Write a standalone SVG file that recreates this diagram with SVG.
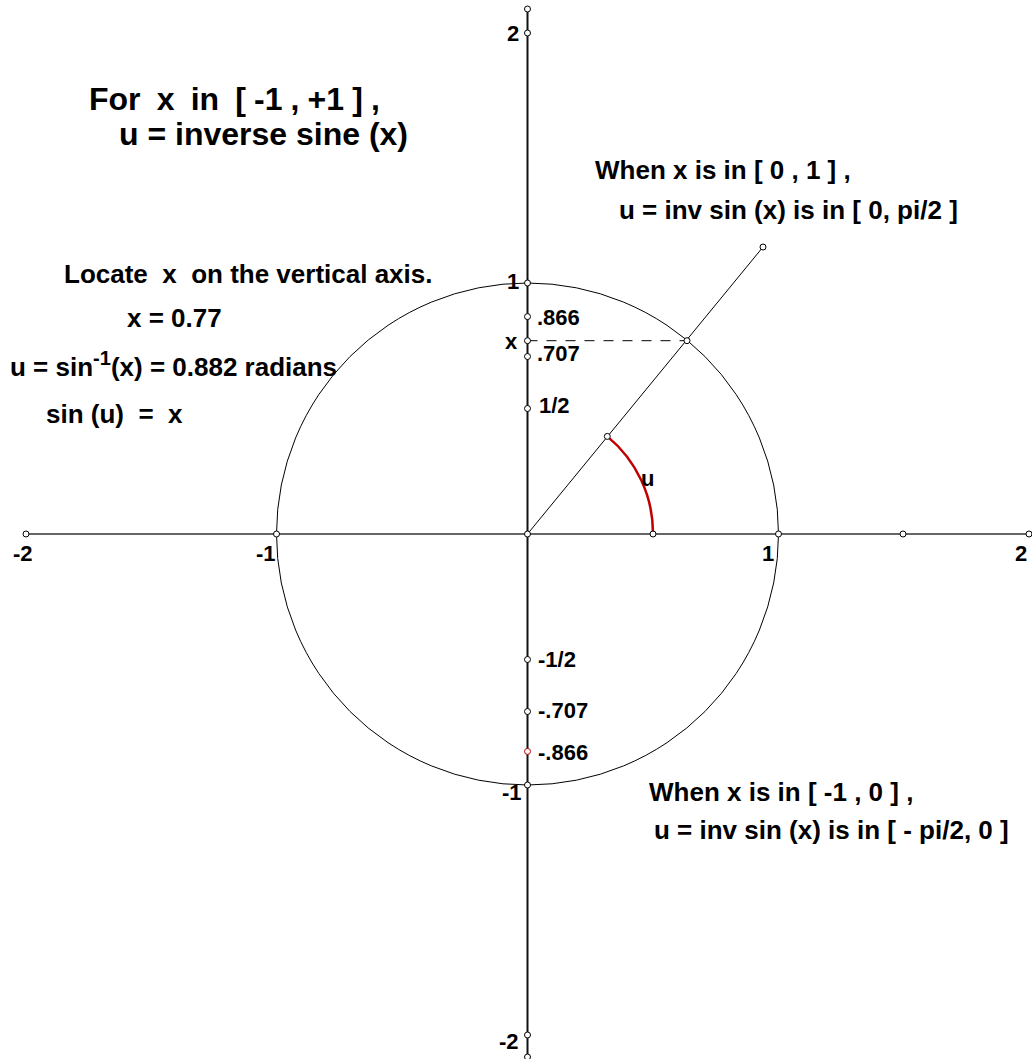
<svg xmlns="http://www.w3.org/2000/svg" width="1032" height="1059" viewBox="0 0 1032 1059">
<style>
text{font-family:"Liberation Sans",Arial,sans-serif;font-weight:bold;fill:#000;white-space:pre}
.title{font-size:32px}
.note{font-size:26px}
.lab{font-size:22px}
.pt{fill:#fff;stroke:#000;stroke-width:1}
.ptr{fill:#fff;stroke:#c00000;stroke-width:1}
</style>
<rect width="1032" height="1059" fill="#fff"/>
<g id="connectors" fill="none">
<line x1="26" y1="534" x2="1029" y2="534" stroke="#333" stroke-width="1.6"/>
<line x1="527.5" y1="9" x2="527.5" y2="1057" stroke="#111" stroke-width="2"/>
<circle cx="527.5" cy="534" r="251" stroke="#000" stroke-width="1"/>
<line x1="527.5" y1="534" x2="763" y2="247" stroke="#000" stroke-width="1"/>
<line x1="527.5" y1="340.7" x2="687" y2="340.7" stroke="#000" stroke-width="1" stroke-dasharray="10,9"/>
<path d="M653,534 A125.5,125.5 0 0 0 607.3,436.4" stroke="#c00000" stroke-width="2.5"/>
</g>
<g id="points">
<circle class="pt" cx="527.5" cy="9" r="3"/>
<circle class="pt" cx="527.5" cy="33" r="3"/>
<circle class="pt" cx="527.5" cy="1035" r="3"/>
<circle class="pt" cx="527.5" cy="1057" r="3"/>
<circle class="pt" cx="26" cy="534" r="3"/>
<circle class="pt" cx="1029" cy="534" r="3"/>
<circle class="pt" cx="903" cy="534" r="3"/>
<circle class="pt" cx="276.5" cy="534" r="3"/>
<circle class="pt" cx="778.5" cy="534" r="3"/>
<circle class="pt" cx="527.5" cy="283" r="3"/>
<circle class="pt" cx="527.5" cy="785" r="3"/>
<circle class="pt" cx="527.5" cy="534" r="3"/>
<circle class="pt" cx="653" cy="534" r="3"/>
<circle class="pt" cx="607.3" cy="436.4" r="3"/>
<circle class="pt" cx="687" cy="340.7" r="3"/>
<circle class="pt" cx="763" cy="247" r="3"/>
<circle class="pt" cx="527.5" cy="316.6" r="3"/>
<circle class="pt" cx="527.5" cy="340.7" r="3"/>
<circle class="pt" cx="527.5" cy="356.5" r="3"/>
<circle class="pt" cx="527.5" cy="408.5" r="3"/>
<circle class="pt" cx="527.5" cy="659.5" r="3"/>
<circle class="pt" cx="527.5" cy="711.5" r="3"/>
<circle class="ptr" cx="527.5" cy="751.4" r="3"/>
</g>
<g id="axis-labels">
<text x="507" y="41" class="lab">2</text>
<text x="507" y="289" class="lab">1</text>
<text x="502" y="800" class="lab">-1</text>
<text x="499" y="1049" class="lab">-2</text>
<text x="13" y="561" class="lab">-2</text>
<text x="256" y="561" class="lab">-1</text>
<text x="762" y="561" class="lab">1</text>
<text x="1015" y="561" class="lab">2</text>
<text x="537" y="325" class="lab">.866</text>
<text x="505" y="349" class="lab">x</text>
<text x="537" y="361" class="lab">.707</text>
<text x="539" y="413" class="lab">1/2</text>
<text x="538" y="667" class="lab">-1/2</text>
<text x="538" y="718" class="lab">-.707</text>
<text x="538" y="760" class="lab">-.866</text>
<text x="641" y="486" class="lab">u</text>
</g>
<g id="title">
<text x="89" y="110" class="title" word-spacing="-0.8">For  x  in  [ -1 , +1 ] ,</text>
<text x="119" y="145" class="title">u = inverse sine (x)</text>
</g>
<g id="left-notes">
<text x="64" y="283" class="note">Locate  x  on the vertical axis.</text>
<text x="127" y="327" class="note">x = 0.77</text>
<text x="10" y="376" class="note">u = sin<tspan dy="-11" font-size="20">-1</tspan><tspan dy="11">(x) = 0.882 radians</tspan></text>
<text x="46" y="423" class="note">sin (u)  =  x</text>
</g>
<g id="right-notes">
<text x="595" y="179" class="note">When x is in [ 0 , 1 ] ,</text>
<text x="619" y="219" class="note">u = inv sin (x) is in [ 0, pi/2 ]</text>
<text x="649" y="801" class="note">When x is in [ -1 , 0 ] ,</text>
<text x="654" y="839" class="note">u = inv sin (x) is in [ - pi/2, 0 ]</text>
</g>
</svg>
